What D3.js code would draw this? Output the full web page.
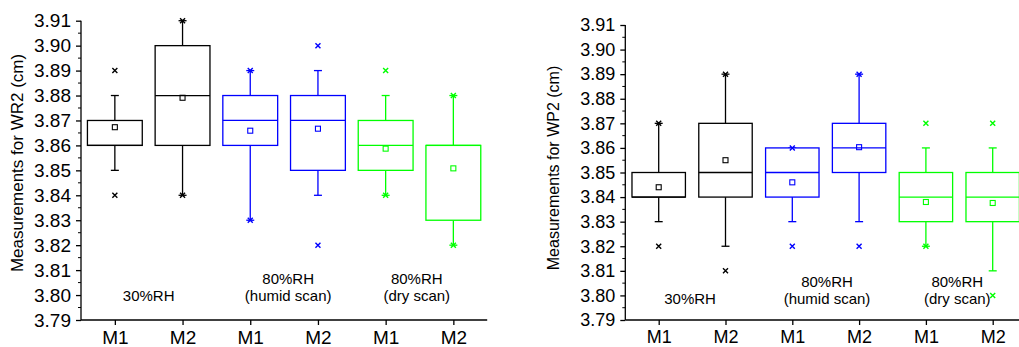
<!DOCTYPE html>
<html>
<head>
<meta charset="utf-8">
<script src="https://cdn.jsdelivr.net/npm/d3@7"></script>
<style>
  body { margin: 0; background: #fff; }
  svg { display: block; font-family: Arial, "Liberation Sans", sans-serif; }
</style>
</head>
<body>
<svg id="chart" width="1019" height="347"></svg>
<script>
// categories and colours (same for both panels)
var categories = ["M1", "M2", "M1", "M2", "M1", "M2"];
var boxColors = ["#000000", "#000000", "#0000ff", "#0000ff", "#00ff00", "#00ff00"];
var yTicks = [3.79, 3.80, 3.81, 3.82, 3.83, 3.84, 3.85, 3.86, 3.87, 3.88, 3.89, 3.90, 3.91];
var groupLabels = [["30%RH"], ["80%RH", "(humid scan)"], ["80%RH", "(dry scan)"]];

// WR2 panel
var wr2Low    = [3.85, 3.84, 3.83, 3.84, 3.84, 3.82];
var wr2Q1     = [3.86, 3.86, 3.86, 3.85, 3.85, 3.83];
var wr2Median = [3.86, 3.88, 3.87, 3.87, 3.86, 3.86];
var wr2Q3     = [3.87, 3.90, 3.88, 3.88, 3.87, 3.86];
var wr2High   = [3.88, 3.91, 3.89, 3.89, 3.88, 3.88];
var wr2Mean   = [3.8673, 3.8791, 3.8659, 3.8667, 3.8587, 3.8508];
var wr2Marks  = [[3.84, 3.89], [3.84, 3.91], [3.83, 3.89], [3.82, 3.90], [3.84, 3.89], [3.82, 3.88]];

// WP2 panel
var wp2Low    = [3.83, 3.82, 3.83, 3.83, 3.82, 3.81];
var wp2Q1     = [3.84, 3.84, 3.84, 3.85, 3.83, 3.83];
var wp2Median = [3.84, 3.85, 3.85, 3.86, 3.84, 3.84];
var wp2Q3     = [3.85, 3.87, 3.86, 3.87, 3.85, 3.85];
var wp2High   = [3.87, 3.89, 3.86, 3.89, 3.86, 3.86];
var wp2Mean   = [3.844, 3.855, 3.846, 3.8603, 3.838, 3.8376];
var wp2Marks  = [[3.82, 3.87], [3.81, 3.89], [3.82, 3.86], [3.82, 3.89], [3.82, 3.87], [3.80, 3.87]];

var svg = d3.select("#chart");

function drawPanel(p) {
    var x = d3.scaleLinear().domain([0.5, 6.5]).range([p.left, p.left + 6 * p.step]);
    var y = d3.scaleLinear().domain([3.79, 3.91]).range([p.bottom, p.top]);
    var g = svg.append("g");
    var half = p.step * p.boxFrac / 2;

    // y axis
    var yAxis = g.append("g")
        .attr("transform", "translate(" + p.left + ",0)")
        .call(d3.axisLeft(y).tickValues(yTicks).tickFormat(d3.format(".2f")).tickSize(5).tickPadding(5));
    yAxis.selectAll("text").style("font-size", p.tickFont + "px").attr("fill", "#000");
    // minor ticks
    g.append("g").selectAll("line")
        .data(yTicks.slice(0, -1))
        .join("line")
        .attr("x1", p.left - 3).attr("x2", p.left)
        .attr("y1", d => y(d + 0.005)).attr("y2", d => y(d + 0.005))
        .attr("stroke", "#000").attr("stroke-width", 1);

    // x axis
    var xAxis = g.append("g")
        .attr("transform", "translate(0," + p.bottom + ")")
        .call(d3.axisBottom(x).tickValues([1, 2, 3, 4, 5, 6]).tickFormat((d, i) => categories[i]).tickSize(5).tickPadding(5.5));
    xAxis.selectAll("text").style("font-size", p.catFont + "px").attr("fill", "#000");
    g.selectAll(".domain, .tick line").attr("stroke", "#000").attr("stroke-width", 1.3);
    yAxis.select(".domain").attr("d", "M0," + y(3.79) + "V" + y(3.91));
    xAxis.select(".domain").attr("d", "M" + x(0.5) + ",0H" + x(6.5));

    g.append("text")
        .attr("transform", "translate(" + p.labelX + "," + p.labelY + ") rotate(-90)")
        .attr("text-anchor", "middle")
        .style("font-size", p.labelFont + "px")
        .text(p.label);

    // boxes
    var boxes = g.append("g").selectAll("g")
        .data(categories.map((c, i) => i))
        .join("g")
        .attr("stroke", i => boxColors[i])
        .attr("fill", "none")
        .attr("stroke-width", 1.3);

    boxes.append("line")
        .attr("x1", i => x(i + 1)).attr("x2", i => x(i + 1))
        .attr("y1", i => y(p.low[i])).attr("y2", i => y(p.q1[i]));
    boxes.append("line")
        .attr("x1", i => x(i + 1)).attr("x2", i => x(i + 1))
        .attr("y1", i => y(p.q3[i])).attr("y2", i => y(p.high[i]));
    boxes.append("line")
        .attr("x1", i => x(i + 1) - 4).attr("x2", i => x(i + 1) + 4)
        .attr("y1", i => y(p.low[i])).attr("y2", i => y(p.low[i]));
    boxes.append("line")
        .attr("x1", i => x(i + 1) - 4).attr("x2", i => x(i + 1) + 4)
        .attr("y1", i => y(p.high[i])).attr("y2", i => y(p.high[i]));
    boxes.append("rect")
        .attr("x", i => x(i + 1) - half)
        .attr("width", half * 2)
        .attr("y", i => y(p.q3[i]))
        .attr("height", i => y(p.q1[i]) - y(p.q3[i]))
        .attr("fill", "#fff");
    boxes.append("line")
        .attr("x1", i => x(i + 1) - half).attr("x2", i => x(i + 1) + half)
        .attr("y1", i => y(p.median[i])).attr("y2", i => y(p.median[i]));
    boxes.append("rect")
        .attr("x", i => x(i + 1) - 2.5).attr("y", i => y(p.mean[i]) - 2.5)
        .attr("width", 5).attr("height", 5)
        .attr("stroke-width", 1.1);

    // x markers (1% / 99%)
    boxes.each(function (i) {
        d3.select(this).selectAll("path.mk")
            .data(p.marks[i])
            .join("path")
            .attr("class", "mk")
            .attr("stroke-width", 1.4)
            .attr("d", v => {
                var cx = x(i + 1), cy = y(v), s = 2.5;
                return "M" + (cx - s) + "," + (cy - s) + "L" + (cx + s) + "," + (cy + s) +
                       "M" + (cx - s) + "," + (cy + s) + "L" + (cx + s) + "," + (cy - s);
            });
    });

    // group annotations
    p.groups.forEach(function (gr, k) {
        var lines = groupLabels[k];
        lines.forEach(function (t, j) {
            g.append("text")
                .attr("x", x(gr.x))
                .attr("y", y(lines.length === 1 ? gr.y2 : (j === 0 ? gr.y1 : gr.y2)))
                .attr("text-anchor", "middle")
                .style("font-size", p.annFont + "px")
                .text(t);
        });
    });
}

drawPanel({
    left: 81, step: 67.7, top: 20.7, bottom: 320, boxFrac: 0.81,
    tickFont: 19, catFont: 19, annFont: 15, labelFont: 17,
    label: "Measurements for WR2 (cm)", labelX: 23, labelY: 163,
    low: wr2Low, q1: wr2Q1, median: wr2Median, q3: wr2Q3, high: wr2High, mean: wr2Mean, marks: wr2Marks,
    groups: [{x: 1.5, y2: 3.7975}, {x: 3.56, y1: 3.8045, y2: 3.7975}, {x: 5.46, y1: 3.8045, y2: 3.7975}]
});

drawPanel({
    left: 625.3, step: 66.8, top: 25, bottom: 320, boxFrac: 0.80,
    tickFont: 18, catFont: 18, annFont: 15, labelFont: 16,
    label: "Measurements for WP2 (cm)", labelX: 559, labelY: 168,
    low: wp2Low, q1: wp2Q1, median: wp2Median, q3: wp2Q3, high: wp2High, mean: wp2Mean, marks: wp2Marks,
    groups: [{x: 1.47, y2: 3.7965}, {x: 3.52, y1: 3.8035, y2: 3.7965}, {x: 5.47, y1: 3.8035, y2: 3.7965}]
});
</script>
</body>
</html>
